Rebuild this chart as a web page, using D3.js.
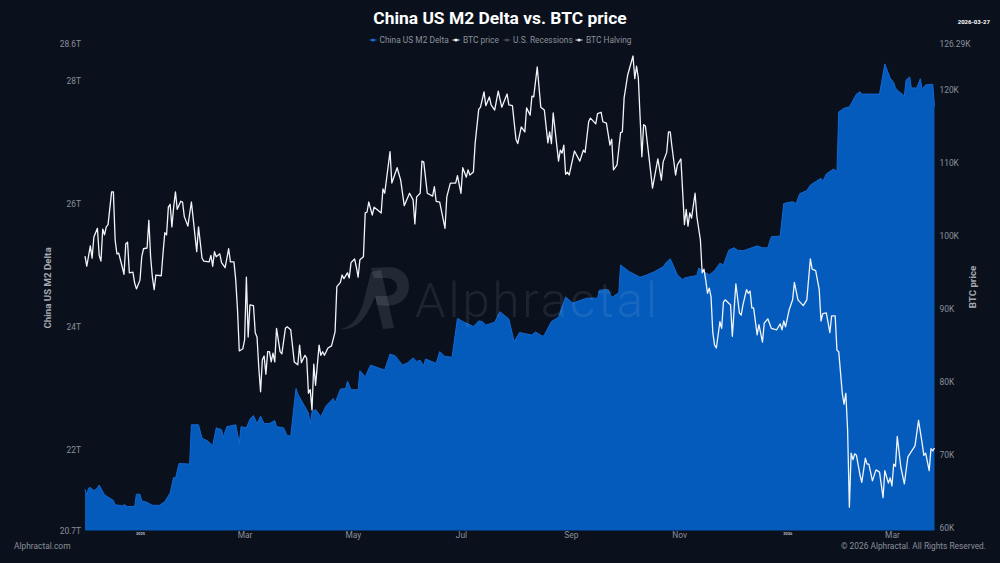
<!DOCTYPE html>
<html>
<head>
<meta charset="utf-8">
<script src="https://cdn.jsdelivr.net/npm/d3@7"></script>
<style>
  html, body { margin: 0; padding: 0; background: #0a111d; }
  text { font-family: Roboto, sans-serif; }
</style>
</head>
<body>
<div id="chart"></div>
<script>
// days counted from 2025-01-01
var btcDays = [-31,-30,-28,-27,-26,-24,-23,-22,-21,-20,-19,-18,-16,-15,-14,-13,-12,-10,-9,-8,-7,-6,-4,-3,-2,0,1,2,4,5,6,7,8,9,12,13,14,15,16,17,18,19,20,21,23,24,25,27,29,32,33,35,36,39,40,41,42,43,45,46,48,50,51,53,54,55,56,58,59,60,61,62,64,65,66,67,68,69,70,71,72,73,74,75,76,77,79,80,82,83,85,87,89,90,91,93,94,95,96,97,98,99,101,102,103,104,106,108,110,111,113,114,115,117,118,119,121,122,123,124,126,127,128,129,131,132,134,136,137,138,141,142,145,147,149,152,154,155,156,158,159,160,162,165,166,167,169,172,173,175,178,179,181,182,184,185,186,188,189,191,192,194,195,197,198,200,202,204,207,208,210,212,213,215,217,218,220,221,222,224,226,228,230,231,232,233,236,237,238,239,240,241,242,245,248,250,251,253,254,257,258,260,261,263,265,266,267,269,271,272,273,275,278,279,280,281,283,284,285,289,292,294,295,297,298,299,300,302,303,305,307,308,309,310,311,313,314,316,317,318,319,320,321,322,323,324,325,327,328,329,330,333,334,336,338,339,340,342,343,344,345,346,348,349,351,352,354,356,359,361,362,363,364,366,368,369,371,374,376,378,379,381,383,384,385,387,389,390,392,393,394,396,397,398,399,400,401,402,403,404,406,407,409,410,411,413,415,417,419,420,422,423,424,425,426,427,429,431,433,437,439,441,442,443,445,446,447,448];
var btcPrice = [97.2,95.8,98.6,96.9,99.8,101.0,97.3,96.5,100.9,100.1,101.2,101.5,106.0,106.0,99.4,97.5,97.6,95.7,94.7,98.9,99.1,94.9,95.0,93.5,92.7,93.9,97.1,98.2,98.3,102.1,97.1,94.3,92.6,94.6,94.5,97.6,100.4,100.1,103.9,104.3,101.2,103.9,106.0,103.6,104.7,104.6,102.6,101.3,104.6,97.8,101.2,96.9,96.5,96.4,97.3,95.8,97.8,97.1,97.5,96.3,95.6,98.2,96.4,96.4,93.9,89.8,84.2,84.5,85.7,94.3,86.1,90.5,90.4,86.7,86.1,81.9,78.6,83.0,83.5,81.0,84.1,84.1,82.7,83.9,82.7,87.3,84.1,83.8,87.3,87.5,87.1,82.7,82.3,85.0,82.6,83.6,83.2,78.4,78.9,76.1,82.4,79.5,85.0,83.6,84.1,83.6,84.6,84.9,86.8,93.0,93.6,94.6,94.1,94.9,94.2,96.3,96.8,95.7,94.3,96.7,97.1,103.1,103.2,104.6,102.8,103.9,103.5,103.1,106.4,105.8,111.5,107.2,109.3,107.6,104.1,105.8,104.9,101.6,105.3,105.8,110.2,110.1,105.8,105.4,106.7,104.7,104.6,101.0,105.3,107.2,107.2,108.2,105.8,109.3,108.0,109.0,108.3,108.7,112.7,117.3,117.6,119.7,117.8,119.0,117.9,117.2,119.8,117.6,119.4,117.9,117.8,113.2,112.6,114.9,114.2,117.5,116.5,119.1,119.0,123.1,117.6,117.2,112.7,114.2,112.6,116.8,110.2,111.7,111.3,112.4,108.4,108.7,108.3,111.6,110.2,111.7,111.4,115.6,116.1,115.3,116.7,116.9,115.6,115.4,112.4,113.2,109.0,109.7,114.1,114.2,118.9,122.0,124.6,121.5,123.2,121.6,110.8,115.2,115.0,106.5,110.5,107.6,110.1,111.4,114.2,114.2,112.1,108.3,109.7,110.5,101.5,103.6,101.3,103.1,102.4,105.8,102.6,99.4,94.9,95.4,93.9,92.1,92.8,91.6,86.7,85.0,84.6,88.2,87.3,90.9,91.2,90.5,86.2,93.4,89.4,89.1,90.5,92.6,92.1,92.4,90.1,90.1,86.4,87.8,85.4,88.0,88.6,87.3,87.1,87.9,87.1,88.3,87.5,89.8,91.2,93.6,91.2,90.4,91.2,96.8,95.4,95.2,92.6,88.3,89.3,89.4,86.7,89.0,89.0,84.3,84.1,78.4,76.9,78.4,73.4,62.8,70.2,69.3,70.1,69.9,67.2,66.2,69.5,68.7,68.7,66.4,67.9,67.6,64.1,67.8,66.1,66.8,65.7,68.7,68.4,72.5,68.3,66.0,69.7,71.2,74.7,71.6,69.9,70.2,67.8,70.8,70.5,70.9];

var m2Days = [-31,-30,-29,-28,-26,-24,-23,-20,-15,-14,-10,-9,-7,-3,-2,0,1,3,7,11,14,17,19,20,22,28,29,33,35,38,41,43,46,47,49,54,56,57,60,62,64,66,68,70,73,76,77,81,83,85,88,89,95,96,97,99,102,105,109,110,113,116,117,119,123,124,127,130,138,141,144,148,151,154,156,158,160,161,167,169,172,176,179,182,188,191,193,195,200,203,208,211,214,221,223,227,228,232,236,240,244,252,258,259,264,266,270,271,276,282,286,290,295,297,299,301,303,306,307,314,315,318,321,324,327,329,332,335,337,340,348,351,354,356,361,363,368,370,372,376,378,384,385,387,391,393,394,397,400,404,406,407,417,420,423,425,426,428,431,432,434,435,438,440,441,443,447,448];
var m2Delta = [21.35,21.26,21.37,21.38,21.33,21.37,21.42,21.26,21.17,21.10,21.08,21.10,21.07,21.07,21.27,21.27,21.16,21.15,21.09,21.09,21.15,21.29,21.55,21.52,21.77,21.76,22.40,22.40,22.18,22.14,22.06,22.35,22.32,22.20,22.37,22.40,22.10,22.37,22.35,22.49,22.55,22.42,22.54,22.42,22.42,22.47,22.37,22.35,22.22,22.22,22.99,22.90,22.59,22.40,22.61,22.65,22.53,22.71,22.83,22.75,22.98,22.99,23.11,22.97,22.97,23.28,23.18,23.37,23.29,23.55,23.52,23.37,23.41,23.49,23.43,23.45,23.36,23.47,23.40,23.59,23.51,23.50,24.13,24.08,24.00,24.09,24.08,24.02,24.07,24.24,24.12,23.75,23.90,23.86,23.91,23.84,23.86,24.08,24.15,24.48,24.38,24.46,24.46,24.59,24.60,24.47,24.55,25.00,24.89,24.80,24.84,24.89,24.97,25.05,25.10,24.97,24.84,24.76,24.79,24.83,24.95,24.89,24.84,24.91,25.03,25.00,25.24,25.28,25.24,25.23,25.31,25.28,25.28,25.46,25.47,26.00,26.03,26.00,26.16,26.21,26.30,26.41,26.36,26.48,26.56,26.52,27.49,27.55,27.57,27.78,27.82,27.78,27.78,28.27,28.04,27.97,27.88,27.82,27.75,28.01,28.06,27.88,27.88,28.03,27.86,27.93,27.94,27.58];

var m2Ticks = [20.68, 22, 24, 26, 28, 28.6];
var btcTicks = [60, 70, 80, 90, 100, 110, 120, 126.29];
var monthTicks = ["2025-03-01","2025-05-01","2025-07-01","2025-09-01","2025-11-01","2026-03-01"];
var yearTicks = ["2025-01-01","2026-01-01"];
var legendItems = ["China US M2 Delta","BTC price","U.S. Recessions","BTC Halving"];
var legendColors = ["#1c6fdc","#ffffff","#4a505a","#e6e8ea"];
var legendMarkerX = [373,456,507,579];
var legendTextX = [379.5,463,513,586];

var width = 1000, height = 563;
var left = 85, right = 934.5, top_ = 43.7, bottom = 530.5;
var parseDate = d3.utcParse("%Y-%m-%d");
var origin = parseDate("2025-01-01");

var x = d3.scaleUtc()
    .domain([parseDate("2024-12-01"), parseDate("2026-03-25")])
    .range([left, right]);
var yLeft = d3.scaleLinear().domain([20.68, 28.6]).range([bottom, top_]);
var yRight = d3.scaleLinear().domain([59.6, 126.29]).range([bottom, top_]);

function dayToDate(d) { return d3.utcDay.offset(origin, d); }

var svg = d3.select("#chart").append("svg")
    .attr("width", width)
    .attr("height", height)
    .style("display", "block");

svg.append("rect").attr("width", width).attr("height", height).attr("fill", "#0a111d");

var m2 = m2Days.map(function(d, i) { return {date: dayToDate(d), value: m2Delta[i]}; });
var btc = btcDays.map(function(d, i) { return {date: dayToDate(d), value: btcPrice[i]}; });

var area = d3.area()
    .x(function(d) { return x(d.date); })
    .y0(bottom)
    .y1(function(d) { return yLeft(d.value); });
var m2Line = d3.line()
    .x(function(d) { return x(d.date); })
    .y(function(d) { return yLeft(d.value); });
var btcLine = d3.line()
    .x(function(d) { return x(d.date); })
    .y(function(d) { return yRight(d.value); });

svg.append("path").datum(m2).attr("d", area).attr("fill", "#055bbb");
svg.append("path").datum(m2).attr("d", m2Line)
    .attr("fill", "none").attr("stroke", "#1268d2").attr("stroke-width", 1);

// watermark
var wm = svg.append("g").attr("fill", "#ffffff");
wm.append("path").attr("opacity", 0.1)
    .attr("d", "M340 329 C352 327 358 318 363 304 L371 272 L381 270 L394 328 L383 329 L375 296 C368 316 357 331 340 329 Z");
wm.append("path").attr("opacity", 0.1)
    .attr("d", "M371 268 L388 267 C402 267 409 276 409 286 C409 298 400 305 388 306 L377 305 L375 296 L386 296 C393 296 397 292 397 287 C397 281 392 278 386 278 L374 278 Z");
wm.append("text").attr("x", 415).attr("y", 317).attr("opacity", 0.08)
    .attr("font-size", 49).attr("font-weight", 300).attr("letter-spacing", 2.9).text("Alphractal");

svg.append("path").datum(btc).attr("d", btcLine)
    .attr("fill", "none").attr("stroke", "#f2f5f8").attr("stroke-width", 1.3)
    .attr("stroke-linejoin", "round");

// axes
var axisLeft = d3.axisLeft(yLeft).tickValues(m2Ticks).tickSize(0).tickPadding(0)
    .tickFormat(function(d) { return (d === 28.6 || d === 20.68) ? d.toFixed(1) + "T" : d + "T"; });
var axisRight = d3.axisRight(yRight).tickValues(btcTicks).tickSize(0).tickPadding(0)
    .tickFormat(function(d) { return d + "K"; });
var axisMonths = d3.axisBottom(x).tickValues(monthTicks.map(parseDate)).tickSize(0).tickPadding(0)
    .tickFormat(d3.utcFormat("%b"));
var axisYears = d3.axisBottom(x).tickValues(yearTicks.map(parseDate)).tickSize(0).tickPadding(0)
    .tickFormat(d3.utcFormat("%Y"));

function styleAxis(g, size, color) {
    g.select(".domain").remove();
    g.selectAll("text").attr("font-family", "Roboto, sans-serif")
        .attr("font-size", size).attr("fill", color);
}
svg.append("g").attr("transform", "translate(81,0)").call(axisLeft).call(styleAxis, 8.4, "#8b909a");
svg.append("g").attr("transform", "translate(939.5,0)").call(axisRight).call(styleAxis, 8.4, "#8b909a");
svg.append("g").attr("transform", "translate(0,532)").call(axisMonths).call(styleAxis, 8.4, "#8b909a");
svg.append("g").attr("transform", "translate(0,532.5)").call(axisYears).call(styleAxis, 4, "#b8bcc2")
    .selectAll("text").attr("font-weight", 700);

// titles
svg.append("text").attr("x", 500).attr("y", 24).attr("text-anchor", "middle")
    .attr("font-size", 17.4).attr("font-weight", 700).attr("fill", "#ffffff")
    .text("China US M2 Delta vs. BTC price");
svg.append("text").attr("x", 990).attr("y", 24).attr("text-anchor", "end")
    .attr("font-size", 6).attr("font-weight", 700).attr("fill", "#ffffff")
    .text("2026-03-27");
svg.append("text").attr("transform", "translate(50.5,288) rotate(-90)").attr("text-anchor", "middle")
    .attr("font-size", 9.7).attr("font-weight", 700).attr("fill", "#a5a9b0")
    .text("China US M2 Delta");
svg.append("text").attr("transform", "translate(975.5,287) rotate(-90)").attr("text-anchor", "middle")
    .attr("font-size", 9.7).attr("font-weight", 700).attr("fill", "#a5a9b0")
    .text("BTC price");

// legend
var legend = svg.append("g");
legendItems.forEach(function(name, i) {
    legend.append("line").attr("x1", legendMarkerX[i] - 3.5).attr("x2", legendMarkerX[i] + 3.5)
        .attr("y1", 40).attr("y2", 40).attr("stroke", legendColors[i]).attr("stroke-width", 1);
    legend.append("circle").attr("cx", legendMarkerX[i]).attr("cy", 40).attr("r", 1.6)
        .attr("fill", legendColors[i]);
    legend.append("text").attr("x", legendTextX[i]).attr("y", 43)
        .attr("font-size", 8.4).attr("fill", "#8b909a").text(name);
});

// footer
svg.append("text").attr("x", 14).attr("y", 549).attr("font-size", 8.4).attr("fill", "#8b909a").text("Alphractal.com");
svg.append("text").attr("x", 986).attr("y", 549).attr("text-anchor", "end")
    .attr("font-size", 8.35).attr("fill", "#8b909a").text("© 2026 Alphractal. All Rights Reserved.");
</script>
</body>
</html>
